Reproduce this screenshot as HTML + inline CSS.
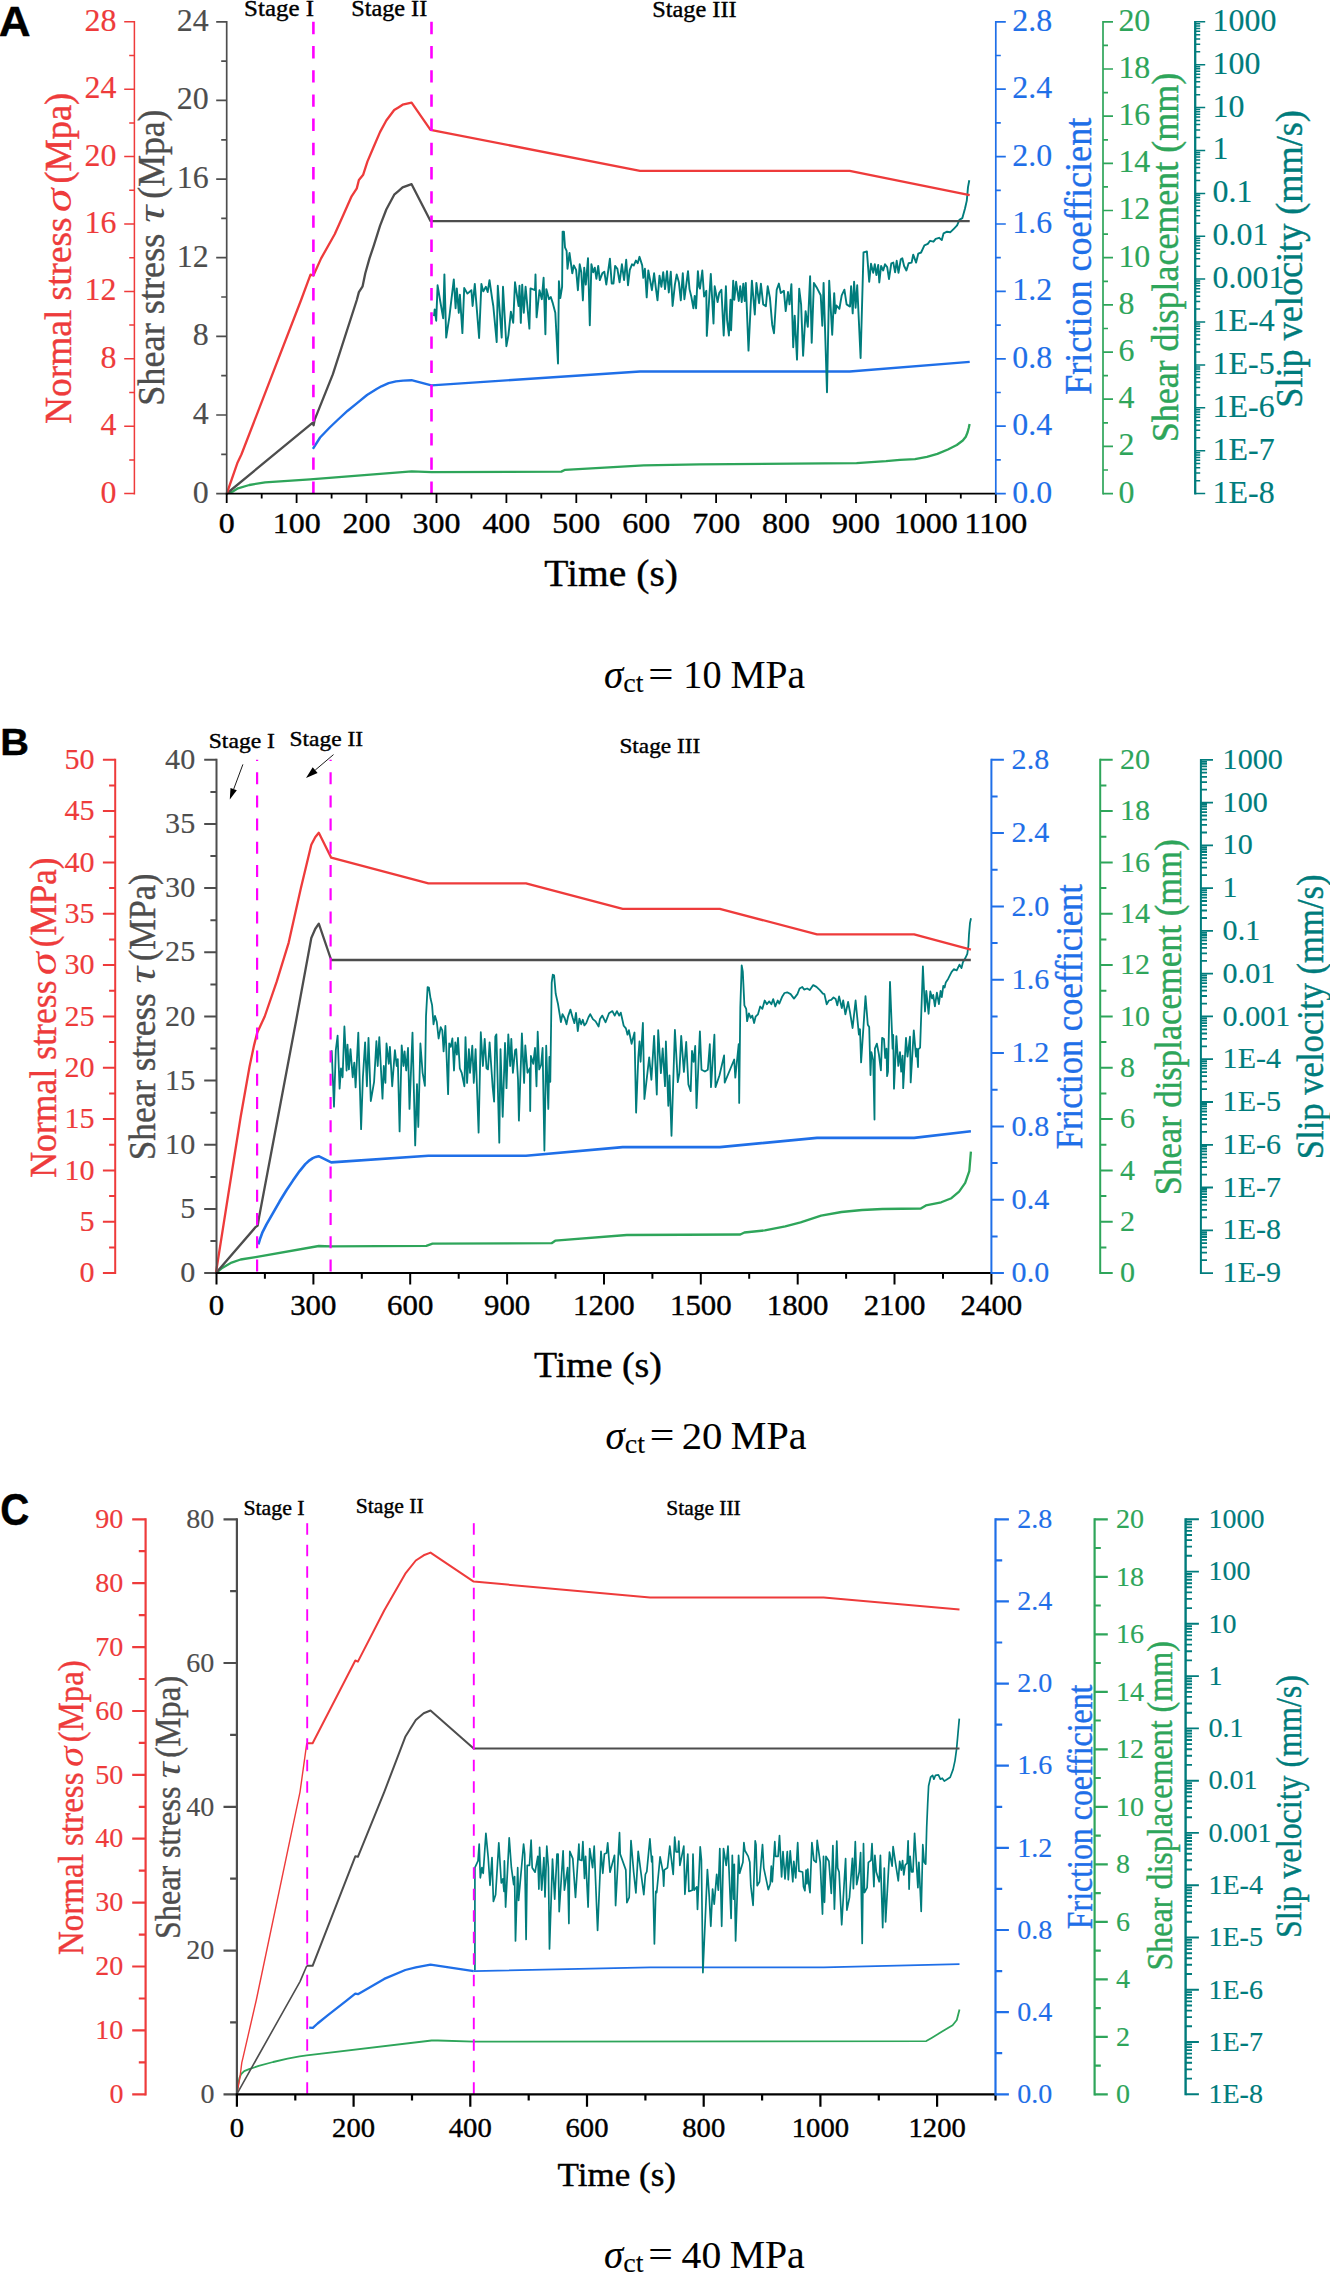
<!DOCTYPE html>
<html lang="en"><head><meta charset="utf-8"><title>Figure</title>
<style>
html,body{margin:0;padding:0;background:#fff}
svg{display:block}
text{stroke-width:.4px;stroke-linejoin:round}
.sf{font-family:"Liberation Serif","DejaVu Serif",serif}
.ss{font-family:"Liberation Sans","DejaVu Sans",sans-serif}
</style></head><body>
<svg width="1330" height="2273" viewBox="0 0 1330 2273">
<rect width="1330" height="2273" fill="#fff"/>
<text class="ss" transform="translate(-1.2 35.8) scale(1.050 1)" font-size="42" fill="#000" stroke="#000" font-weight="bold">A</text>
<text class="sf" transform="translate(244.1 15.5) scale(1.085 1)" font-size="23" fill="#000" stroke="#000">Stage I</text>
<text class="sf" transform="translate(351.2 15.5) scale(1.054 1)" font-size="23" fill="#000" stroke="#000">Stage II</text>
<text class="sf" transform="translate(652.2 16.5) scale(1.058 1)" font-size="23" fill="#000" stroke="#000">Stage III</text>
<polyline points="226.8,493.5 232.4,491.7 238,488.3 249.3,485 265.1,482.3 310.2,479.3 411.7,471.4 431.4,472.1 561.3,471.6 565.2,469.8 643.8,465.4 699.4,464.3 856.6,463.1 886,461.2 900,459.9 915,459.2 926.9,456.9 937.4,453.9 947.9,449.5 956.8,445 962.8,440.5 965.8,436.7 967.6,432.3 968.8,427.8 969.6,424" fill="none" stroke="#2ea55a" stroke-width="2.3" stroke-linejoin="round"/>
<polyline points="312.9,448.8 320.1,437.5 329.7,427.5 338.1,419.5 347.7,410.7 357.4,402.9 367,395 376.6,389 381.4,386.3 388.6,383.2 395.9,381.4 403.1,380.6 411.5,380.2 431.4,385.4 640,371.5 849.7,371.5 969.7,361.9" fill="none" stroke="#1f6fe8" stroke-width="2.4" stroke-linejoin="round"/>
<polyline points="434,316.2 434.7,309.4 436.2,320.7 437.6,285.3 440.3,301.5 443.2,318.4 444.4,274.4 446.2,337.6 449.3,317.3 453.8,279.4 455.6,308.3 456.8,288.4 458.8,312.8 459.9,294.7 462.4,333.1 464.2,288 467.4,293.6 471.4,290.2 472.6,306 474.8,283.9 479.1,338 481.4,283.9 483.2,291.4 485.9,286.8 487.7,292 489.5,280.1 492.2,299.2 493.3,306 496.7,342.1 497.8,285.7 501.7,337.6 503,286.8 506.4,346.2 508.4,335.3 510.9,311.7 513.2,322.9 515,282.3 518.6,306 519.5,285.7 520.8,322.9 522.2,284.6 523.8,312.8 525.6,286.8 529.4,328.6 530.5,288.4 535,290.2 535.5,274.4 536.6,317.3 539.5,290.2 541.8,299.2 543.6,277.8 545.4,334.2 546.3,289.1 549,299.2 550.8,297 552.6,302.6 555.3,312.8 558,363.5 558.9,281.2 560.3,298.1 562.1,286.8 562.6,231.6 563.9,231.6 565,247.4 566.6,250.8 567.5,268.8 569.5,253 572.3,273.3 573.8,265.4 576.1,269.9 577.9,290.2 579.7,264.3 581.3,272.2 582.9,300.4 584.2,267.7 585.8,284.6 588,258.2 589.8,325.2 591.4,264.3 593.2,272.2 594.8,267.7 596.4,278.9 598.2,265.9 599.8,280.1 602.3,273.3 604.3,271.7 606.3,284.6 607.7,274.4 609.9,258.6 611.7,283.5 613.5,283.5 615.1,265.9 617.4,268.8 619.6,282.3 621.9,264.3 624.1,280.1 626.2,259.8 628,285.3 629.8,269.9 632,264.3 633.8,265.4 635.9,260.5 637.7,263.2 639.5,256.8 642.2,265.4 643.3,277.8 644.9,268.8 646.7,297.4 648.3,270.4 650.1,280.1 651.9,290.2 654.1,273.3 655.7,286.8 657.5,300.4 659.5,275.6 661.4,286.8 663.2,272.2 665,289.1 667,271.1 668.8,292.5 670.8,271.7 672.6,306 674.9,284.6 676.7,274.4 678.9,282.3 680.8,300.4 682.8,273.3 684.4,299.2 688,271.1 689.5,289.1 691.4,297 693.4,308.3 694.7,295.9 696.1,308.3 697.9,271.1 699.2,286.8 700,288.6 702.3,270.5 704.1,296.5 706.3,290.8 706.8,335.9 710.8,273.9 713.5,323.5 714.7,286.3 717.6,302.1 719.2,293.1 721.4,289.7 723.7,335.5 725.9,286.3 727.1,320.2 728.9,335.5 730.5,299.8 731.1,330.3 733.2,280.7 734.3,299.8 736.1,281.8 738.8,301 740.2,286.3 741.7,302.1 743.3,283.6 744.7,301 745.8,282.9 748.5,350.6 751.9,280.7 754.8,314.5 756.4,282.9 759.1,303.2 760.9,283.6 763.2,304.4 765.9,306.2 767.7,286.3 769.9,297.6 772.2,324.7 774,333.2 776.7,289.7 778.9,283.6 780.8,293.1 783.9,290.8 785.7,311.1 788,292 789.5,304.4 791.4,284.1 793.2,347.2 794.7,315.6 797,359.6 799.2,288.6 801.1,304.4 803.1,355.8 805.6,311.1 807.8,326.9 810.1,276.2 811.7,342.7 813.9,282.9 817.3,288.6 820.7,295.3 822.3,325.8 823.6,282.9 827,392.3 829.2,280.7 832.2,334.8 834.2,293.1 835.3,313.4 836.5,305.5 839.4,308.9 841.7,295.3 844.4,289.7 846.6,304.4 850,306.6 851.1,286.3 852.7,313.4 854.1,281.8 855.6,307.7 857.2,285.2 860.6,358 863.5,252.5 866.9,251.4 869.2,281.8 871,263.8 873.2,272.8 874.8,264.2 876.4,275 878.2,264.9 879.3,282.5 881.1,266 883.2,270.5 885,264.2 887.2,267.1 889,279.1 891.3,263.3 893.3,262.6 895.1,272.3 896.7,260.8 898.5,272.8 900.8,259.2 902.3,258.3 904.1,266 906.4,270.5 908.6,263.3 911.6,262.6 913.2,254.7 916.1,262.6 918.3,253.6 921.1,252.5 924.4,245.3 927.8,243.9 930.1,240.8 933.5,241.7 935.7,238.9 939.1,237.8 941.8,240.1 943.6,233.3 947,231.7 950.4,232.2 953.8,228.8 957.1,225.4 959.4,219.8 962.3,218.2 965,208.5 966.8,200.6 968,187.1 969.3,180.3" fill="none" stroke="#007c7c" stroke-width="1.9" stroke-linejoin="round"/>
<polyline points="226.8,493.5 312.5,422.9 313.6,425.2 314.7,419.6 332.8,374.4 356.8,300 358.9,292.1 362.6,286.3 365.3,273.2 369.5,258.4 373.7,245.8 380,225.8 386.3,209.5 394.2,194.7 398.4,191.1 402.6,187.4 411.6,184.2 430.5,221.1 969.7,221.2" fill="none" stroke="#4d4d4d" stroke-width="2.3" stroke-linejoin="round"/>
<polyline points="226.8,493.5 237.6,462.4 241.4,454.5 301.1,300 310.5,274.7 313.4,275.5 321.1,258.4 334.7,234.2 343.2,215.3 351.6,196.3 356.8,188.4 358.9,180 363.2,174.7 367.4,161.6 373.7,146.8 380,132.1 386.3,120.5 394.2,110 398.4,107.4 402.6,104.7 411.6,102.6 430.5,129.8 640,170.9 849.7,170.9 969.7,195.1" fill="none" stroke="#ee3b3b" stroke-width="2.3" stroke-linejoin="round"/>
<line x1="313.4" y1="21.8" x2="313.4" y2="493.6" stroke="#ff00ff" stroke-width="2.6" stroke-dasharray="12.4 11.8" stroke-dashoffset="0"/>
<line x1="431.5" y1="21.8" x2="431.5" y2="493.6" stroke="#ff00ff" stroke-width="2.6" stroke-dasharray="12.4 11.8" stroke-dashoffset="0"/>
<line x1="134.4" y1="21.1" x2="134.4" y2="494.4" stroke="#ee3b3b" stroke-width="1.5"/>
<text class="sf" transform="translate(100.6 502.5) scale(1.030 1)" font-size="31" fill="#ee3b3b" stroke="#ee3b3b" style="stroke-width:.15px">0</text>
<text class="sf" transform="translate(100.6 435.1) scale(1.030 1)" font-size="31" fill="#ee3b3b" stroke="#ee3b3b" style="stroke-width:.15px">4</text>
<text class="sf" transform="translate(100.6 367.7) scale(1.030 1)" font-size="31" fill="#ee3b3b" stroke="#ee3b3b" style="stroke-width:.15px">8</text>
<text class="sf" transform="translate(84.6 300.3) scale(1.030 1)" font-size="31" fill="#ee3b3b" stroke="#ee3b3b" style="stroke-width:.15px">12</text>
<text class="sf" transform="translate(84.6 232.9) scale(1.030 1)" font-size="31" fill="#ee3b3b" stroke="#ee3b3b" style="stroke-width:.15px">16</text>
<text class="sf" transform="translate(84.6 165.5) scale(1.030 1)" font-size="31" fill="#ee3b3b" stroke="#ee3b3b" style="stroke-width:.15px">20</text>
<text class="sf" transform="translate(84.6 98.1) scale(1.030 1)" font-size="31" fill="#ee3b3b" stroke="#ee3b3b" style="stroke-width:.15px">24</text>
<text class="sf" transform="translate(84.6 30.7) scale(1.030 1)" font-size="31" fill="#ee3b3b" stroke="#ee3b3b" style="stroke-width:.15px">28</text>
<path d="M134.4 493.6H124.2M134.4 459.9H129.2M134.4 426.2H124.2M134.4 392.5H129.2M134.4 358.8H124.2M134.4 325.1H129.2M134.4 291.4H124.2M134.4 257.7H129.2M134.4 224H124.2M134.4 190.3H129.2M134.4 156.6H124.2M134.4 122.9H129.2M134.4 89.2H124.2M134.4 55.5H129.2M134.4 21.8H124.2" stroke="#ee3b3b" stroke-width="1.5" fill="none"/>
<line x1="226.7" y1="20.9" x2="226.7" y2="494.5" stroke="#4d4d4d" stroke-width="1.7"/>
<text class="sf" transform="translate(192.8 502.5) scale(1.030 1)" font-size="31" fill="#4d4d4d" stroke="#4d4d4d" style="stroke-width:.15px">0</text>
<text class="sf" transform="translate(192.8 423.9) scale(1.030 1)" font-size="31" fill="#4d4d4d" stroke="#4d4d4d" style="stroke-width:.15px">4</text>
<text class="sf" transform="translate(192.8 345.2) scale(1.030 1)" font-size="31" fill="#4d4d4d" stroke="#4d4d4d" style="stroke-width:.15px">8</text>
<text class="sf" transform="translate(176.8 266.6) scale(1.030 1)" font-size="31" fill="#4d4d4d" stroke="#4d4d4d" style="stroke-width:.15px">12</text>
<text class="sf" transform="translate(176.8 188) scale(1.030 1)" font-size="31" fill="#4d4d4d" stroke="#4d4d4d" style="stroke-width:.15px">16</text>
<text class="sf" transform="translate(176.8 109.3) scale(1.030 1)" font-size="31" fill="#4d4d4d" stroke="#4d4d4d" style="stroke-width:.15px">20</text>
<text class="sf" transform="translate(176.8 30.7) scale(1.030 1)" font-size="31" fill="#4d4d4d" stroke="#4d4d4d" style="stroke-width:.15px">24</text>
<path d="M226.7 493.6H216.2M226.7 454.3H221.2M226.7 415H216.2M226.7 375.7H221.2M226.7 336.3H216.2M226.7 297H221.2M226.7 257.7H216.2M226.7 218.4H221.2M226.7 179.1H216.2M226.7 139.8H221.2M226.7 100.4H216.2M226.7 61.1H221.2M226.7 21.8H216.2" stroke="#4d4d4d" stroke-width="1.7" fill="none"/>
<line x1="225.8" y1="493.6" x2="996.7" y2="493.6" stroke="#000" stroke-width="1.8"/>
<text class="sf" transform="translate(218.7 532.6) scale(1.065 1)" font-size="30" fill="#000" stroke="#000">0</text>
<text class="sf" transform="translate(272.7 532.6) scale(1.065 1)" font-size="30" fill="#000" stroke="#000">100</text>
<text class="sf" transform="translate(342.6 532.6) scale(1.065 1)" font-size="30" fill="#000" stroke="#000">200</text>
<text class="sf" transform="translate(412.5 532.6) scale(1.065 1)" font-size="30" fill="#000" stroke="#000">300</text>
<text class="sf" transform="translate(482.4 532.6) scale(1.065 1)" font-size="30" fill="#000" stroke="#000">400</text>
<text class="sf" transform="translate(552.3 532.6) scale(1.065 1)" font-size="30" fill="#000" stroke="#000">500</text>
<text class="sf" transform="translate(622.2 532.6) scale(1.065 1)" font-size="30" fill="#000" stroke="#000">600</text>
<text class="sf" transform="translate(692.2 532.6) scale(1.065 1)" font-size="30" fill="#000" stroke="#000">700</text>
<text class="sf" transform="translate(762.1 532.6) scale(1.065 1)" font-size="30" fill="#000" stroke="#000">800</text>
<text class="sf" transform="translate(832 532.6) scale(1.065 1)" font-size="30" fill="#000" stroke="#000">900</text>
<text class="sf" transform="translate(893.9 532.6) scale(1.065 1)" font-size="30" fill="#000" stroke="#000">1000</text>
<text class="sf" transform="translate(964.4 532.6) scale(1.065 1)" font-size="30" fill="#000" stroke="#000">1100</text>
<path d="M226.7 493.6V503.1M261.7 493.6V498.6M296.6 493.6V503.1M331.6 493.6V498.6M366.5 493.6V503.1M401.5 493.6V498.6M436.5 493.6V503.1M471.4 493.6V498.6M506.4 493.6V503.1M541.3 493.6V498.6M576.3 493.6V503.1M611.2 493.6V498.6M646.2 493.6V503.1M681.2 493.6V498.6M716.1 493.6V503.1M751.1 493.6V498.6M786 493.6V503.1M821 493.6V498.6M856 493.6V503.1M890.9 493.6V498.6M925.9 493.6V503.1M960.8 493.6V498.6M995.8 493.6V503.1" stroke="#000" stroke-width="1.8" fill="none"/>
<line x1="995.8" y1="20.9" x2="995.8" y2="494.5" stroke="#1f6fe8" stroke-width="1.7"/>
<text class="sf" transform="translate(1012.3 502.5) scale(1.030 1)" font-size="31" fill="#1f6fe8" stroke="#1f6fe8" style="stroke-width:.15px">0.0</text>
<text class="sf" transform="translate(1012.3 435.1) scale(1.030 1)" font-size="31" fill="#1f6fe8" stroke="#1f6fe8" style="stroke-width:.15px">0.4</text>
<text class="sf" transform="translate(1012.3 367.7) scale(1.030 1)" font-size="31" fill="#1f6fe8" stroke="#1f6fe8" style="stroke-width:.15px">0.8</text>
<text class="sf" transform="translate(1012.3 300.3) scale(1.030 1)" font-size="31" fill="#1f6fe8" stroke="#1f6fe8" style="stroke-width:.15px">1.2</text>
<text class="sf" transform="translate(1012.3 232.9) scale(1.030 1)" font-size="31" fill="#1f6fe8" stroke="#1f6fe8" style="stroke-width:.15px">1.6</text>
<text class="sf" transform="translate(1012.3 165.5) scale(1.030 1)" font-size="31" fill="#1f6fe8" stroke="#1f6fe8" style="stroke-width:.15px">2.0</text>
<text class="sf" transform="translate(1012.3 98.1) scale(1.030 1)" font-size="31" fill="#1f6fe8" stroke="#1f6fe8" style="stroke-width:.15px">2.4</text>
<text class="sf" transform="translate(1012.3 30.7) scale(1.030 1)" font-size="31" fill="#1f6fe8" stroke="#1f6fe8" style="stroke-width:.15px">2.8</text>
<path d="M995.8 493.6H1005.8M995.8 459.9H1000.8M995.8 426.2H1005.8M995.8 392.5H1000.8M995.8 358.8H1005.8M995.8 325.1H1000.8M995.8 291.4H1005.8M995.8 257.7H1000.8M995.8 224H1005.8M995.8 190.3H1000.8M995.8 156.6H1005.8M995.8 122.9H1000.8M995.8 89.2H1005.8M995.8 55.5H1000.8M995.8 21.8H1005.8" stroke="#1f6fe8" stroke-width="1.7" fill="none"/>
<line x1="1103" y1="20.9" x2="1103" y2="494.5" stroke="#2ea55a" stroke-width="1.7"/>
<text class="sf" transform="translate(1118.4 502.5) scale(1.030 1)" font-size="31" fill="#2ea55a" stroke="#2ea55a" style="stroke-width:.15px">0</text>
<text class="sf" transform="translate(1118.4 455.3) scale(1.030 1)" font-size="31" fill="#2ea55a" stroke="#2ea55a" style="stroke-width:.15px">2</text>
<text class="sf" transform="translate(1118.4 408.1) scale(1.030 1)" font-size="31" fill="#2ea55a" stroke="#2ea55a" style="stroke-width:.15px">4</text>
<text class="sf" transform="translate(1118.4 361) scale(1.030 1)" font-size="31" fill="#2ea55a" stroke="#2ea55a" style="stroke-width:.15px">6</text>
<text class="sf" transform="translate(1118.4 313.8) scale(1.030 1)" font-size="31" fill="#2ea55a" stroke="#2ea55a" style="stroke-width:.15px">8</text>
<text class="sf" transform="translate(1118.4 266.6) scale(1.030 1)" font-size="31" fill="#2ea55a" stroke="#2ea55a" style="stroke-width:.15px">10</text>
<text class="sf" transform="translate(1118.4 219.4) scale(1.030 1)" font-size="31" fill="#2ea55a" stroke="#2ea55a" style="stroke-width:.15px">12</text>
<text class="sf" transform="translate(1118.4 172.2) scale(1.030 1)" font-size="31" fill="#2ea55a" stroke="#2ea55a" style="stroke-width:.15px">14</text>
<text class="sf" transform="translate(1118.4 125.1) scale(1.030 1)" font-size="31" fill="#2ea55a" stroke="#2ea55a" style="stroke-width:.15px">16</text>
<text class="sf" transform="translate(1118.4 77.9) scale(1.030 1)" font-size="31" fill="#2ea55a" stroke="#2ea55a" style="stroke-width:.15px">18</text>
<text class="sf" transform="translate(1118.4 30.7) scale(1.030 1)" font-size="31" fill="#2ea55a" stroke="#2ea55a" style="stroke-width:.15px">20</text>
<path d="M1103 493.6H1113M1103 470H1108M1103 446.4H1113M1103 422.8H1108M1103 399.2H1113M1103 375.7H1108M1103 352.1H1113M1103 328.5H1108M1103 304.9H1113M1103 281.3H1108M1103 257.7H1113M1103 234.1H1108M1103 210.5H1113M1103 186.9H1108M1103 163.3H1113M1103 139.8H1108M1103 116.2H1113M1103 92.6H1108M1103 69H1113M1103 45.4H1108M1103 21.8H1113" stroke="#2ea55a" stroke-width="1.7" fill="none"/>
<line x1="1195.2" y1="21.1" x2="1195.2" y2="494.4" stroke="#007c7c" stroke-width="2.3"/>
<text class="sf" transform="translate(1212.6 30.7) scale(1.030 1)" font-size="31" fill="#007c7c" stroke="#007c7c" style="stroke-width:.15px">1000</text>
<text class="sf" transform="translate(1212.6 73.6) scale(1.030 1)" font-size="31" fill="#007c7c" stroke="#007c7c" style="stroke-width:.15px">100</text>
<text class="sf" transform="translate(1212.6 116.5) scale(1.030 1)" font-size="31" fill="#007c7c" stroke="#007c7c" style="stroke-width:.15px">10</text>
<text class="sf" transform="translate(1212.6 159.4) scale(1.030 1)" font-size="31" fill="#007c7c" stroke="#007c7c" style="stroke-width:.15px">1</text>
<text class="sf" transform="translate(1212.6 202.3) scale(1.030 1)" font-size="31" fill="#007c7c" stroke="#007c7c" style="stroke-width:.15px">0.1</text>
<text class="sf" transform="translate(1212.6 245.2) scale(1.030 1)" font-size="31" fill="#007c7c" stroke="#007c7c" style="stroke-width:.15px">0.01</text>
<text class="sf" transform="translate(1212.6 288) scale(1.030 1)" font-size="31" fill="#007c7c" stroke="#007c7c" style="stroke-width:.15px">0.001</text>
<text class="sf" transform="translate(1212.6 330.9) scale(1.030 1)" font-size="31" fill="#007c7c" stroke="#007c7c" style="stroke-width:.15px">1E-4</text>
<text class="sf" transform="translate(1212.6 373.8) scale(1.030 1)" font-size="31" fill="#007c7c" stroke="#007c7c" style="stroke-width:.15px">1E-5</text>
<text class="sf" transform="translate(1212.6 416.7) scale(1.030 1)" font-size="31" fill="#007c7c" stroke="#007c7c" style="stroke-width:.15px">1E-6</text>
<text class="sf" transform="translate(1212.6 459.6) scale(1.030 1)" font-size="31" fill="#007c7c" stroke="#007c7c" style="stroke-width:.15px">1E-7</text>
<text class="sf" transform="translate(1212.6 502.5) scale(1.030 1)" font-size="31" fill="#007c7c" stroke="#007c7c" style="stroke-width:.15px">1E-8</text>
<path d="M1195.2 21.8H1205.2M1195.2 51.8H1200.2M1195.2 44.2H1200.2M1195.2 38.9H1200.2M1195.2 34.7H1200.2M1195.2 31.3H1200.2M1195.2 28.4H1200.2M1195.2 26H1200.2M1195.2 23.8H1200.2M1195.2 64.7H1205.2M1195.2 94.7H1200.2M1195.2 87.1H1200.2M1195.2 81.8H1200.2M1195.2 77.6H1200.2M1195.2 74.2H1200.2M1195.2 71.3H1200.2M1195.2 68.8H1200.2M1195.2 66.7H1200.2M1195.2 107.6H1205.2M1195.2 137.6H1200.2M1195.2 130H1200.2M1195.2 124.6H1200.2M1195.2 120.5H1200.2M1195.2 117.1H1200.2M1195.2 114.2H1200.2M1195.2 111.7H1200.2M1195.2 109.5H1200.2M1195.2 150.5H1205.2M1195.2 180.5H1200.2M1195.2 172.9H1200.2M1195.2 167.5H1200.2M1195.2 163.4H1200.2M1195.2 160H1200.2M1195.2 157.1H1200.2M1195.2 154.6H1200.2M1195.2 152.4H1200.2M1195.2 193.4H1205.2M1195.2 223.3H1200.2M1195.2 215.8H1200.2M1195.2 210.4H1200.2M1195.2 206.3H1200.2M1195.2 202.9H1200.2M1195.2 200H1200.2M1195.2 197.5H1200.2M1195.2 195.3H1200.2M1195.2 236.3H1205.2M1195.2 266.2H1200.2M1195.2 258.7H1200.2M1195.2 253.3H1200.2M1195.2 249.2H1200.2M1195.2 245.8H1200.2M1195.2 242.9H1200.2M1195.2 240.4H1200.2M1195.2 238.2H1200.2M1195.2 279.1H1205.2M1195.2 309.1H1200.2M1195.2 301.6H1200.2M1195.2 296.2H1200.2M1195.2 292.1H1200.2M1195.2 288.7H1200.2M1195.2 285.8H1200.2M1195.2 283.3H1200.2M1195.2 281.1H1200.2M1195.2 322H1205.2M1195.2 352H1200.2M1195.2 344.5H1200.2M1195.2 339.1H1200.2M1195.2 334.9H1200.2M1195.2 331.6H1200.2M1195.2 328.7H1200.2M1195.2 326.2H1200.2M1195.2 324H1200.2M1195.2 364.9H1205.2M1195.2 394.9H1200.2M1195.2 387.4H1200.2M1195.2 382H1200.2M1195.2 377.8H1200.2M1195.2 374.4H1200.2M1195.2 371.6H1200.2M1195.2 369.1H1200.2M1195.2 366.9H1200.2M1195.2 407.8H1205.2M1195.2 437.8H1200.2M1195.2 430.2H1200.2M1195.2 424.9H1200.2M1195.2 420.7H1200.2M1195.2 417.3H1200.2M1195.2 414.5H1200.2M1195.2 412H1200.2M1195.2 409.8H1200.2M1195.2 450.7H1205.2M1195.2 480.7H1200.2M1195.2 473.1H1200.2M1195.2 467.8H1200.2M1195.2 463.6H1200.2M1195.2 460.2H1200.2M1195.2 457.4H1200.2M1195.2 454.9H1200.2M1195.2 452.7H1200.2M1195.2 493.6H1205.2" stroke="#007c7c" stroke-width="1.5" fill="none"/>
<text class="sf" transform="translate(70.9 423.9) rotate(-90) scale(0.971 1)" font-size="38.5" fill="#ee3b3b" stroke="#ee3b3b">Normal stress</text>
<text class="sf" transform="translate(70.9 212.2) rotate(-90) scale(1.250 1)" font-size="38.5" fill="#ee3b3b" stroke="#ee3b3b" style="stroke-width:0"><tspan font-style="italic">σ</tspan></text>
<text class="sf" transform="translate(70.9 183.6) rotate(-90) scale(0.944 1)" font-size="38.5" fill="#ee3b3b" stroke="#ee3b3b">(Mpa)</text>
<text class="sf" transform="translate(163.6 405.8) rotate(-90) scale(0.942 1)" font-size="38.5" fill="#4d4d4d" stroke="#4d4d4d">Shear stress</text>
<text class="sf" transform="translate(163.6 222.8) rotate(-90) scale(1.250 1)" font-size="38.5" fill="#4d4d4d" stroke="#4d4d4d" style="stroke-width:0"><tspan font-style="italic">τ</tspan></text>
<text class="sf" transform="translate(163.6 198.7) rotate(-90) scale(0.927 1)" font-size="38.5" fill="#4d4d4d" stroke="#4d4d4d">(Mpa)</text>
<text class="sf" transform="translate(1091 394.8) rotate(-90) scale(0.938 1)" font-size="38.5" fill="#1f6fe8" stroke="#1f6fe8">Friction coefficient</text>
<text class="sf" transform="translate(1177.9 442.3) rotate(-90) scale(0.934 1)" font-size="38.5" fill="#2ea55a" stroke="#2ea55a">Shear displacement (mm)</text>
<text class="sf" transform="translate(1301.5 407.7) rotate(-90) scale(0.940 1)" font-size="38.5" fill="#007c7c" stroke="#007c7c">Slip velocity (mm/s)</text>
<text class="sf" transform="translate(544.3 585.6) scale(1.072 1)" font-size="36.9" fill="#000" stroke="#000">Time (s)</text>
<text class="sf" transform="translate(604.1 688.3)" font-size="39" fill="#000" stroke="#000" style="stroke-width:.1px"><tspan font-style="italic">σ</tspan><tspan font-size="28.1" dy="3.4">ct</tspan></text>
<text class="sf" transform="translate(648.2 688.3) scale(1.147 1)" font-size="39" fill="#000" stroke="#000" style="stroke-width:.1px">=</text>
<text class="sf" transform="translate(683.3 688.3) scale(0.979 1)" font-size="39" fill="#000" stroke="#000" style="stroke-width:.1px">10</text>
<text class="sf" transform="translate(730.4 688.3) scale(1.012 1)" font-size="39" fill="#000" stroke="#000" style="stroke-width:.1px">MPa</text>
<text class="ss" transform="translate(0.3 754.6) scale(1.060 1)" font-size="37.6" fill="#000" stroke="#000" font-weight="bold">B</text>
<text class="sf" transform="translate(208.7 747.9) scale(1.084 1)" font-size="21.8" fill="#000" stroke="#000">Stage I</text>
<text class="sf" transform="translate(289.5 746.1) scale(1.077 1)" font-size="21.8" fill="#000" stroke="#000">Stage II</text>
<text class="sf" transform="translate(619.4 753.1) scale(1.068 1)" font-size="21.8" fill="#000" stroke="#000">Stage III</text>
<line x1="242.9" y1="764.4" x2="233.7" y2="789.1" stroke="#000" stroke-width="0.9"/>
<polygon points="229.8,799.4 230.5,787.9 236.8,790.3" fill="#000"/>
<line x1="333.5" y1="754.6" x2="315.2" y2="770.1" stroke="#000" stroke-width="0.9"/>
<polygon points="306,777.9 312.7,767.2 317.6,773" fill="#000"/>
<polyline points="215.9,1273.1 222.6,1267.7 231.6,1262.6 240.6,1259.5 255.6,1257.1 318.8,1246 331.2,1246.3 426.3,1245.8 432.5,1243.7 551.6,1243.2 555.2,1240.7 626.8,1235 740.3,1234.5 744.4,1232.5 764.8,1230.4 785.3,1226.3 800.6,1222.3 821.1,1215.6 841.5,1212 862,1210 882.4,1209 920.8,1208.5 925.9,1205.4 941.2,1202.3 951.4,1198.2 959.1,1191.6 965.2,1182.9 969.3,1171.1 970.9,1151.7" fill="none" stroke="#2ea55a" stroke-width="2.3" stroke-linejoin="round"/>
<polyline points="258.4,1244.3 259.9,1239.3 262.3,1232.7 266.5,1224.4 273.1,1212.9 279.7,1201.3 286.3,1190.5 292.9,1180.6 299.6,1171.1 305.3,1164.1 309.5,1160.3 312.8,1158.1 315.7,1156.9 318.6,1156.2 331.2,1162.4 428.4,1155.8 526,1155.8 622.7,1147.1 719.8,1147.1 817,1137.9 914.1,1137.9 970.9,1131.2" fill="none" stroke="#1f6fe8" stroke-width="2.6" stroke-linejoin="round"/>
<polyline points="331.7,1050.2 334,1106.6 335.8,1050.2 337.6,1035.6 339.6,1088.6 341,1068.3 342.6,1077.3 344.4,1026.5 346.6,1070.5 347.5,1044.6 348.9,1069.4 350.5,1049.1 352.7,1077.3 354.3,1062.6 355.6,1087.4 358.3,1032.6 361.1,1129.2 362.9,1077.3 365.1,1042.3 366.9,1086.3 368.5,1037.8 370.8,1101 374.1,1081.8 376.4,1041.2 377.7,1066 379.3,1037.1 382.5,1098.7 383.8,1066 385.4,1082.9 386.5,1043.5 388.8,1063.8 389.9,1046.8 392.2,1086.3 394.9,1050.2 396.7,1066 397.8,1059.2 399.6,1131.4 401.7,1045.3 403.5,1066 404.6,1051.4 406.2,1070.5 408,1048 409.5,1108.9 412.5,1032.6 415.2,1145.4 417,1084.1 418.3,1126.9 420.4,1043.5 422.6,1072.8 424.9,1085.9 426,1016.4 427.6,987.1 428.9,987.5 430.5,998.3 432.1,1005.1 433.5,1024.3 435,1015.9 436.8,1022 438.6,1038.5 440.7,1027.2 442.3,1030.4 443.6,1051.4 445.4,1025.9 448.1,1094.2 449.2,1043.5 450.8,1046.8 452.4,1038.5 454,1070.5 455.3,1042.3 456.9,1054.7 458,1037.8 459.8,1068.3 461.7,1072.8 464.4,1086.3 465.5,1037.1 467.1,1082.9 468.9,1049.1 470,1072.8 472.3,1045.7 473.8,1082.9 475.6,1049.1 478.6,1132.6 480.8,1032.2 482.9,1066 484.7,1038.9 486.5,1068.3 488,1069.4 489.6,1042.3 492.6,1086.3 494.1,1101.7 495.3,1036.7 496.4,1034.4 499.3,1142.7 500.5,1049.1 502.7,1116.8 505,1043 506.5,1088.1 508.3,1034.4 510.2,1066 511.3,1038.9 512.9,1072.8 515.1,1050.2 516.2,1049.1 518,1079.5 518.9,1120.6 521.9,1033.3 524.1,1082.9 525.3,1045.3 527.5,1072.8 529.8,1068.3 530.2,1111.1 530.9,1055.9 533.2,1063.8 535,1048 536.5,1086.3 537.7,1031.7 539.2,1069.4 541.1,1064.9 542.6,1048 544.4,1150.6 546.2,1045.7 548.3,1108.9 549.4,1057 550.3,1081.8 551.7,982.6 552.8,974.7 554.1,975.3 555.7,993.8 558,1004 560.9,1022 562.5,1014.1 564.7,1018.2 566.5,1024.3 568.1,1016.4 570.4,1009.6 572.6,1017.5 574.4,1023.2 576,1013 577.8,1031.1 579.4,1018.6 581.2,1024.3 582.8,1019.8 584.4,1025.4 586.2,1023.2 588.4,1017.5 590.2,1014.1 592.9,1019.1 595.6,1021.4 598.6,1026.5 600,1018.9 602.3,1015.6 605.6,1022.3 609,1013.3 612.4,1011.1 614.7,1015.6 616.9,1011.1 619.2,1015.6 620.8,1012.6 623.7,1025.7 625.9,1028.4 627.5,1034.7 628.9,1030.2 631.6,1043.8 633.2,1037.4 634.5,1032.5 636.1,1112.6 638.3,1057.3 639.5,1041.5 640.6,1061.8 642.9,1023 644.4,1099 647.4,1073.1 649.2,1057.3 651.4,1079.8 654.1,1035.9 656.8,1094.5 658.2,1030.2 660.9,1073.1 662.7,1048.3 665,1086.2 665.9,1041.5 668.3,1105.8 669.5,1075.3 671.5,1135.8 674.9,1029.8 677.8,1082.1 679.4,1073.1 681.2,1035.9 683.9,1072 686.2,1042 688.4,1084.4 690.7,1091.1 692,1051 693.6,1061.8 695.2,1046 696.5,1108 699.9,1031.4 701.5,1069.7 704.9,1071.5 707.8,1069.7 709.8,1044.2 711,1087.1 714.4,1034.7 715.5,1087.1 719.5,1075.3 724.1,1055.5 724.7,1082.6 734.2,1059.5 735.3,1077.6 738.7,1044.2 739.2,1102.9 740.3,1007.7 741.7,965.3 742.8,971.6 744.4,1005.4 746.2,1008.8 747.1,1021.2 748.9,1013.3 750.7,1017.8 752.3,1015.6 754.1,1023 755.6,1016.7 757.9,1014.4 760.2,1006.5 762.4,1008.8 764.7,1000.5 766.9,1004.3 769.2,1001.4 771.4,1004.3 773.2,999.1 775.3,1006.5 777.7,1000.5 779.3,1003.6 782.3,996.4 784.5,993 787.2,992.3 790.6,994.1 794,998.6 797.4,994.1 799.6,988.5 802.3,986.9 804.1,989.6 807.1,988.5 809.8,990.1 813.2,985.1 816.5,986.9 819.9,990.1 822.9,993.7 824.4,994.1 826.7,1004.3 828.9,1000.5 831.2,999.8 833.5,997.5 835.7,999.1 837.3,1005.4 839.1,996.4 841.8,1008.1 843.2,1000.5 845.4,1014.4 848.1,1002 849.9,1011.7 852.6,1028 855.6,1000.5 858.9,1034.7 859.8,1029.1 860,1029.3 861.1,1062.4 865.5,996.1 867.8,1024.7 869.2,1027 870.5,1075 871.4,1052.1 873.2,1060.1 874.5,1119.6 874.9,1048.7 876.9,1043.6 878.9,1054.4 880.9,1070.4 882.1,1037.8 884,1039 885.2,1057.9 886.5,1048.7 887.1,1076.2 888,1071.6 890,981.8 892.6,1048.7 893.2,1035 894,1088.7 896.4,1036.1 898.3,1065.9 900,1052.1 901.2,1071.6 902.6,1055.6 903.2,1088.2 906,1037.8 907.5,1056.7 910,1036.7 910.7,1082.4 913.8,1030.4 916,1056.7 916.8,1048.7 918,1067 918.3,1049.3 920.1,1047.6 922.9,966.3 925,1011.5 926.3,990.9 928.6,1013.8 930.3,991.5 932.1,998.4 933.2,994.9 934.9,1006.4 936.9,992.7 938.9,1004.1 940.6,990.9 941.8,997.2 943.3,985.8 944.6,987.5 945.8,982.4 948.1,978.9 951.5,972.1 953.8,969.2 956.7,970.3 959.5,964.6 961.5,968.1 962.9,962.3 965.2,958.3 967.3,953.8 968.4,945.8 969,934.3 970,922.9 971,918.3" fill="none" stroke="#007c7c" stroke-width="1.8" stroke-linejoin="round"/>
<polyline points="215.9,1273.1 255.6,1227.1 257.7,1225.6 259.2,1216.5 296.2,1020.2 311.3,938 315.2,929 318.8,923.6 331.2,960 970.8,960" fill="none" stroke="#4d4d4d" stroke-width="2.3" stroke-linejoin="round"/>
<polyline points="215.9,1273.1 228.6,1192.5 240.6,1117.3 249.6,1066.2 254.1,1045.1 257.1,1033.1 264.7,1016.5 276.7,981.7 288.7,942.6 300.8,888.4 311.3,844.8 315.2,837.3 318.8,832.8 331.2,857.7 428.4,883.3 526,883.3 622.7,908.8 719.8,908.8 817,934.4 914.1,934.4 970.9,949.7" fill="none" stroke="#ee3b3b" stroke-width="2.3" stroke-linejoin="round"/>
<line x1="257.1" y1="759.8" x2="257.1" y2="1273.1" stroke="#ff00ff" stroke-width="2.2" stroke-dasharray="12 11.2" stroke-dashoffset="10.8"/>
<line x1="330.6" y1="759.8" x2="330.6" y2="1273.1" stroke="#ff00ff" stroke-width="2.2" stroke-dasharray="12 11.2" stroke-dashoffset="10.8"/>
<line x1="115.2" y1="758.8" x2="115.2" y2="1274.1" stroke="#ee3b3b" stroke-width="2"/>
<text class="sf" transform="translate(79.5 1282.2) scale(1.020 1)" font-size="29.5" fill="#ee3b3b" stroke="#ee3b3b" style="stroke-width:.15px">0</text>
<text class="sf" transform="translate(79.5 1230.9) scale(1.020 1)" font-size="29.5" fill="#ee3b3b" stroke="#ee3b3b" style="stroke-width:.15px">5</text>
<text class="sf" transform="translate(64.4 1179.5) scale(1.020 1)" font-size="29.5" fill="#ee3b3b" stroke="#ee3b3b" style="stroke-width:.15px">10</text>
<text class="sf" transform="translate(64.4 1128.2) scale(1.020 1)" font-size="29.5" fill="#ee3b3b" stroke="#ee3b3b" style="stroke-width:.15px">15</text>
<text class="sf" transform="translate(64.4 1076.9) scale(1.020 1)" font-size="29.5" fill="#ee3b3b" stroke="#ee3b3b" style="stroke-width:.15px">20</text>
<text class="sf" transform="translate(64.4 1025.5) scale(1.020 1)" font-size="29.5" fill="#ee3b3b" stroke="#ee3b3b" style="stroke-width:.15px">25</text>
<text class="sf" transform="translate(64.4 974.2) scale(1.020 1)" font-size="29.5" fill="#ee3b3b" stroke="#ee3b3b" style="stroke-width:.15px">30</text>
<text class="sf" transform="translate(64.4 922.9) scale(1.020 1)" font-size="29.5" fill="#ee3b3b" stroke="#ee3b3b" style="stroke-width:.15px">35</text>
<text class="sf" transform="translate(64.4 871.6) scale(1.020 1)" font-size="29.5" fill="#ee3b3b" stroke="#ee3b3b" style="stroke-width:.15px">40</text>
<text class="sf" transform="translate(64.4 820.2) scale(1.020 1)" font-size="29.5" fill="#ee3b3b" stroke="#ee3b3b" style="stroke-width:.15px">45</text>
<text class="sf" transform="translate(64.4 768.9) scale(1.020 1)" font-size="29.5" fill="#ee3b3b" stroke="#ee3b3b" style="stroke-width:.15px">50</text>
<path d="M115.2 1273.1H102.9M115.2 1247.4H109.1M115.2 1221.8H102.9M115.2 1196.1H109.1M115.2 1170.4H102.9M115.2 1144.8H109.1M115.2 1119.1H102.9M115.2 1093.4H109.1M115.2 1067.8H102.9M115.2 1042.1H109.1M115.2 1016.4H102.9M115.2 990.8H109.1M115.2 965.1H102.9M115.2 939.5H109.1M115.2 913.8H102.9M115.2 888.1H109.1M115.2 862.5H102.9M115.2 836.8H109.1M115.2 811.1H102.9M115.2 785.5H109.1M115.2 759.8H102.9" stroke="#ee3b3b" stroke-width="2" fill="none"/>
<line x1="216.5" y1="758.8" x2="216.5" y2="1274.1" stroke="#4d4d4d" stroke-width="2"/>
<text class="sf" transform="translate(180.2 1282.2) scale(1.020 1)" font-size="29.5" fill="#4d4d4d" stroke="#4d4d4d" style="stroke-width:.15px">0</text>
<text class="sf" transform="translate(180.2 1218) scale(1.020 1)" font-size="29.5" fill="#4d4d4d" stroke="#4d4d4d" style="stroke-width:.15px">5</text>
<text class="sf" transform="translate(165.1 1153.9) scale(1.020 1)" font-size="29.5" fill="#4d4d4d" stroke="#4d4d4d" style="stroke-width:.15px">10</text>
<text class="sf" transform="translate(165.1 1089.7) scale(1.020 1)" font-size="29.5" fill="#4d4d4d" stroke="#4d4d4d" style="stroke-width:.15px">15</text>
<text class="sf" transform="translate(165.1 1025.5) scale(1.020 1)" font-size="29.5" fill="#4d4d4d" stroke="#4d4d4d" style="stroke-width:.15px">20</text>
<text class="sf" transform="translate(165.1 961.4) scale(1.020 1)" font-size="29.5" fill="#4d4d4d" stroke="#4d4d4d" style="stroke-width:.15px">25</text>
<text class="sf" transform="translate(165.1 897.2) scale(1.020 1)" font-size="29.5" fill="#4d4d4d" stroke="#4d4d4d" style="stroke-width:.15px">30</text>
<text class="sf" transform="translate(165.1 833.1) scale(1.020 1)" font-size="29.5" fill="#4d4d4d" stroke="#4d4d4d" style="stroke-width:.15px">35</text>
<text class="sf" transform="translate(165.1 768.9) scale(1.020 1)" font-size="29.5" fill="#4d4d4d" stroke="#4d4d4d" style="stroke-width:.15px">40</text>
<path d="M216.5 1273.1H204.2M216.5 1241H210.4M216.5 1208.9H204.2M216.5 1176.9H210.4M216.5 1144.8H204.2M216.5 1112.7H210.4M216.5 1080.6H204.2M216.5 1048.5H210.4M216.5 1016.4H204.2M216.5 984.4H210.4M216.5 952.3H204.2M216.5 920.2H210.4M216.5 888.1H204.2M216.5 856H210.4M216.5 824H204.2M216.5 791.9H210.4M216.5 759.8H204.2" stroke="#4d4d4d" stroke-width="2" fill="none"/>
<line x1="215.5" y1="1273.1" x2="992.4" y2="1273.1" stroke="#000" stroke-width="2"/>
<text class="sf" transform="translate(208.8 1314.6) scale(1.045 1)" font-size="29.5" fill="#000" stroke="#000">0</text>
<text class="sf" transform="translate(290.2 1314.6) scale(1.045 1)" font-size="29.5" fill="#000" stroke="#000">300</text>
<text class="sf" transform="translate(387.1 1314.6) scale(1.045 1)" font-size="29.5" fill="#000" stroke="#000">600</text>
<text class="sf" transform="translate(484 1314.6) scale(1.045 1)" font-size="29.5" fill="#000" stroke="#000">900</text>
<text class="sf" transform="translate(573.1 1314.6) scale(1.045 1)" font-size="29.5" fill="#000" stroke="#000">1200</text>
<text class="sf" transform="translate(670 1314.6) scale(1.045 1)" font-size="29.5" fill="#000" stroke="#000">1500</text>
<text class="sf" transform="translate(766.8 1314.6) scale(1.045 1)" font-size="29.5" fill="#000" stroke="#000">1800</text>
<text class="sf" transform="translate(863.7 1314.6) scale(1.045 1)" font-size="29.5" fill="#000" stroke="#000">2100</text>
<text class="sf" transform="translate(960.6 1314.6) scale(1.045 1)" font-size="29.5" fill="#000" stroke="#000">2400</text>
<path d="M216.5 1273.1V1284.5M264.9 1273.1V1278.7M313.4 1273.1V1284.5M361.8 1273.1V1278.7M410.2 1273.1V1284.5M458.7 1273.1V1278.7M507.1 1273.1V1284.5M555.5 1273.1V1278.7M604 1273.1V1284.5M652.4 1273.1V1278.7M700.8 1273.1V1284.5M749.2 1273.1V1278.7M797.7 1273.1V1284.5M846.1 1273.1V1278.7M894.5 1273.1V1284.5M943 1273.1V1278.7M991.4 1273.1V1284.5" stroke="#000" stroke-width="2" fill="none"/>
<line x1="991.4" y1="758.8" x2="991.4" y2="1274.1" stroke="#1f6fe8" stroke-width="2"/>
<text class="sf" transform="translate(1011.6 1282.2) scale(1.020 1)" font-size="29.5" fill="#1f6fe8" stroke="#1f6fe8" style="stroke-width:.15px">0.0</text>
<text class="sf" transform="translate(1011.6 1208.9) scale(1.020 1)" font-size="29.5" fill="#1f6fe8" stroke="#1f6fe8" style="stroke-width:.15px">0.4</text>
<text class="sf" transform="translate(1011.6 1135.5) scale(1.020 1)" font-size="29.5" fill="#1f6fe8" stroke="#1f6fe8" style="stroke-width:.15px">0.8</text>
<text class="sf" transform="translate(1011.6 1062.2) scale(1.020 1)" font-size="29.5" fill="#1f6fe8" stroke="#1f6fe8" style="stroke-width:.15px">1.2</text>
<text class="sf" transform="translate(1011.6 988.9) scale(1.020 1)" font-size="29.5" fill="#1f6fe8" stroke="#1f6fe8" style="stroke-width:.15px">1.6</text>
<text class="sf" transform="translate(1011.6 915.6) scale(1.020 1)" font-size="29.5" fill="#1f6fe8" stroke="#1f6fe8" style="stroke-width:.15px">2.0</text>
<text class="sf" transform="translate(1011.6 842.2) scale(1.020 1)" font-size="29.5" fill="#1f6fe8" stroke="#1f6fe8" style="stroke-width:.15px">2.4</text>
<text class="sf" transform="translate(1011.6 768.9) scale(1.020 1)" font-size="29.5" fill="#1f6fe8" stroke="#1f6fe8" style="stroke-width:.15px">2.8</text>
<path d="M991.4 1273.1H1003.9M991.4 1236.4H997.6M991.4 1199.8H1003.9M991.4 1163.1H997.6M991.4 1126.4H1003.9M991.4 1089.8H997.6M991.4 1053.1H1003.9M991.4 1016.4H997.6M991.4 979.8H1003.9M991.4 943.1H997.6M991.4 906.5H1003.9M991.4 869.8H997.6M991.4 833.1H1003.9M991.4 796.5H997.6M991.4 759.8H1003.9" stroke="#1f6fe8" stroke-width="2" fill="none"/>
<line x1="1100.2" y1="758.8" x2="1100.2" y2="1274.1" stroke="#2ea55a" stroke-width="2"/>
<text class="sf" transform="translate(1120 1282.2) scale(1.020 1)" font-size="29.5" fill="#2ea55a" stroke="#2ea55a" style="stroke-width:.15px">0</text>
<text class="sf" transform="translate(1120 1230.9) scale(1.020 1)" font-size="29.5" fill="#2ea55a" stroke="#2ea55a" style="stroke-width:.15px">2</text>
<text class="sf" transform="translate(1120 1179.5) scale(1.020 1)" font-size="29.5" fill="#2ea55a" stroke="#2ea55a" style="stroke-width:.15px">4</text>
<text class="sf" transform="translate(1120 1128.2) scale(1.020 1)" font-size="29.5" fill="#2ea55a" stroke="#2ea55a" style="stroke-width:.15px">6</text>
<text class="sf" transform="translate(1120 1076.9) scale(1.020 1)" font-size="29.5" fill="#2ea55a" stroke="#2ea55a" style="stroke-width:.15px">8</text>
<text class="sf" transform="translate(1120 1025.5) scale(1.020 1)" font-size="29.5" fill="#2ea55a" stroke="#2ea55a" style="stroke-width:.15px">10</text>
<text class="sf" transform="translate(1120 974.2) scale(1.020 1)" font-size="29.5" fill="#2ea55a" stroke="#2ea55a" style="stroke-width:.15px">12</text>
<text class="sf" transform="translate(1120 922.9) scale(1.020 1)" font-size="29.5" fill="#2ea55a" stroke="#2ea55a" style="stroke-width:.15px">14</text>
<text class="sf" transform="translate(1120 871.6) scale(1.020 1)" font-size="29.5" fill="#2ea55a" stroke="#2ea55a" style="stroke-width:.15px">16</text>
<text class="sf" transform="translate(1120 820.2) scale(1.020 1)" font-size="29.5" fill="#2ea55a" stroke="#2ea55a" style="stroke-width:.15px">18</text>
<text class="sf" transform="translate(1120 768.9) scale(1.020 1)" font-size="29.5" fill="#2ea55a" stroke="#2ea55a" style="stroke-width:.15px">20</text>
<path d="M1100.2 1273.1H1112.7M1100.2 1247.4H1106.4M1100.2 1221.8H1112.7M1100.2 1196.1H1106.4M1100.2 1170.4H1112.7M1100.2 1144.8H1106.4M1100.2 1119.1H1112.7M1100.2 1093.4H1106.4M1100.2 1067.8H1112.7M1100.2 1042.1H1106.4M1100.2 1016.4H1112.7M1100.2 990.8H1106.4M1100.2 965.1H1112.7M1100.2 939.5H1106.4M1100.2 913.8H1112.7M1100.2 888.1H1106.4M1100.2 862.5H1112.7M1100.2 836.8H1106.4M1100.2 811.1H1112.7M1100.2 785.5H1106.4M1100.2 759.8H1112.7" stroke="#2ea55a" stroke-width="2" fill="none"/>
<line x1="1200.9" y1="758.9" x2="1200.9" y2="1274" stroke="#007c7c" stroke-width="2"/>
<text class="sf" transform="translate(1222.6 768.9) scale(1.020 1)" font-size="29.5" fill="#007c7c" stroke="#007c7c" style="stroke-width:.15px">1000</text>
<text class="sf" transform="translate(1222.6 811.7) scale(1.020 1)" font-size="29.5" fill="#007c7c" stroke="#007c7c" style="stroke-width:.15px">100</text>
<text class="sf" transform="translate(1222.6 854.4) scale(1.020 1)" font-size="29.5" fill="#007c7c" stroke="#007c7c" style="stroke-width:.15px">10</text>
<text class="sf" transform="translate(1222.6 897.2) scale(1.020 1)" font-size="29.5" fill="#007c7c" stroke="#007c7c" style="stroke-width:.15px">1</text>
<text class="sf" transform="translate(1222.6 940) scale(1.020 1)" font-size="29.5" fill="#007c7c" stroke="#007c7c" style="stroke-width:.15px">0.1</text>
<text class="sf" transform="translate(1222.6 982.8) scale(1.020 1)" font-size="29.5" fill="#007c7c" stroke="#007c7c" style="stroke-width:.15px">0.01</text>
<text class="sf" transform="translate(1222.6 1025.5) scale(1.020 1)" font-size="29.5" fill="#007c7c" stroke="#007c7c" style="stroke-width:.15px">0.001</text>
<text class="sf" transform="translate(1222.6 1068.3) scale(1.020 1)" font-size="29.5" fill="#007c7c" stroke="#007c7c" style="stroke-width:.15px">1E-4</text>
<text class="sf" transform="translate(1222.6 1111.1) scale(1.020 1)" font-size="29.5" fill="#007c7c" stroke="#007c7c" style="stroke-width:.15px">1E-5</text>
<text class="sf" transform="translate(1222.6 1153.9) scale(1.020 1)" font-size="29.5" fill="#007c7c" stroke="#007c7c" style="stroke-width:.15px">1E-6</text>
<text class="sf" transform="translate(1222.6 1196.6) scale(1.020 1)" font-size="29.5" fill="#007c7c" stroke="#007c7c" style="stroke-width:.15px">1E-7</text>
<text class="sf" transform="translate(1222.6 1239.4) scale(1.020 1)" font-size="29.5" fill="#007c7c" stroke="#007c7c" style="stroke-width:.15px">1E-8</text>
<text class="sf" transform="translate(1222.6 1282.2) scale(1.020 1)" font-size="29.5" fill="#007c7c" stroke="#007c7c" style="stroke-width:.15px">1E-9</text>
<path d="M1200.9 759.8H1213M1200.9 789.7H1207M1200.9 782.2H1207M1200.9 776.8H1207M1200.9 772.7H1207M1200.9 769.3H1207M1200.9 766.4H1207M1200.9 763.9H1207M1200.9 761.8H1207M1200.9 802.6H1213M1200.9 832.5H1207M1200.9 824.9H1207M1200.9 819.6H1207M1200.9 815.5H1207M1200.9 812.1H1207M1200.9 809.2H1207M1200.9 806.7H1207M1200.9 804.5H1207M1200.9 845.3H1213M1200.9 875.2H1207M1200.9 867.7H1207M1200.9 862.4H1207M1200.9 858.2H1207M1200.9 854.8H1207M1200.9 852H1207M1200.9 849.5H1207M1200.9 847.3H1207M1200.9 888.1H1213M1200.9 918H1207M1200.9 910.5H1207M1200.9 905.1H1207M1200.9 901H1207M1200.9 897.6H1207M1200.9 894.8H1207M1200.9 892.3H1207M1200.9 890.1H1207M1200.9 930.9H1213M1200.9 960.8H1207M1200.9 953.3H1207M1200.9 947.9H1207M1200.9 943.8H1207M1200.9 940.4H1207M1200.9 937.5H1207M1200.9 935H1207M1200.9 932.9H1207M1200.9 973.7H1213M1200.9 1003.6H1207M1200.9 996H1207M1200.9 990.7H1207M1200.9 986.6H1207M1200.9 983.2H1207M1200.9 980.3H1207M1200.9 977.8H1207M1200.9 975.6H1207M1200.9 1016.4H1213M1200.9 1046.3H1207M1200.9 1038.8H1207M1200.9 1033.5H1207M1200.9 1029.3H1207M1200.9 1025.9H1207M1200.9 1023.1H1207M1200.9 1020.6H1207M1200.9 1018.4H1207M1200.9 1059.2H1213M1200.9 1089.1H1207M1200.9 1081.6H1207M1200.9 1076.2H1207M1200.9 1072.1H1207M1200.9 1068.7H1207M1200.9 1065.9H1207M1200.9 1063.4H1207M1200.9 1061.2H1207M1200.9 1102H1213M1200.9 1131.9H1207M1200.9 1124.4H1207M1200.9 1119H1207M1200.9 1114.9H1207M1200.9 1111.5H1207M1200.9 1108.6H1207M1200.9 1106.1H1207M1200.9 1104H1207M1200.9 1144.8H1213M1200.9 1174.7H1207M1200.9 1167.1H1207M1200.9 1161.8H1207M1200.9 1157.7H1207M1200.9 1154.3H1207M1200.9 1151.4H1207M1200.9 1148.9H1207M1200.9 1146.7H1207M1200.9 1187.5H1213M1200.9 1217.4H1207M1200.9 1209.9H1207M1200.9 1204.6H1207M1200.9 1200.4H1207M1200.9 1197H1207M1200.9 1194.2H1207M1200.9 1191.7H1207M1200.9 1189.5H1207M1200.9 1230.3H1213M1200.9 1260.2H1207M1200.9 1252.7H1207M1200.9 1247.3H1207M1200.9 1243.2H1207M1200.9 1239.8H1207M1200.9 1237H1207M1200.9 1234.5H1207M1200.9 1232.3H1207M1200.9 1273.1H1213" stroke="#007c7c" stroke-width="1.8" fill="none"/>
<text class="sf" transform="translate(55.9 1177.7) rotate(-90) scale(0.952 1)" font-size="37.5" fill="#ee3b3b" stroke="#ee3b3b">Normal stress</text>
<text class="sf" transform="translate(55.9 975.2) rotate(-90) scale(1.250 1)" font-size="37.5" fill="#ee3b3b" stroke="#ee3b3b" style="stroke-width:0"><tspan font-style="italic">σ</tspan></text>
<text class="sf" transform="translate(55.9 947.3) rotate(-90) scale(0.937 1)" font-size="37.5" fill="#ee3b3b" stroke="#ee3b3b">(MPa)</text>
<text class="sf" transform="translate(154.5 1160.2) rotate(-90) scale(0.938 1)" font-size="37.5" fill="#4d4d4d" stroke="#4d4d4d">Shear stress</text>
<text class="sf" transform="translate(154.5 983.5) rotate(-90) scale(1.250 1)" font-size="37.5" fill="#4d4d4d" stroke="#4d4d4d" style="stroke-width:0"><tspan font-style="italic">τ</tspan></text>
<text class="sf" transform="translate(154.5 961.1) rotate(-90) scale(0.914 1)" font-size="37.5" fill="#4d4d4d" stroke="#4d4d4d">(MPa)</text>
<text class="sf" transform="translate(1082.4 1149.2) rotate(-90) scale(0.922 1)" font-size="37.5" fill="#1f6fe8" stroke="#1f6fe8">Friction coefficient</text>
<text class="sf" transform="translate(1180.5 1195.2) rotate(-90) scale(0.924 1)" font-size="37.5" fill="#2ea55a" stroke="#2ea55a">Shear displacement (mm)</text>
<text class="sf" transform="translate(1323.4 1159.2) rotate(-90) scale(0.924 1)" font-size="37.5" fill="#007c7c" stroke="#007c7c">Slip velocity (mm/s)</text>
<text class="sf" transform="translate(533.9 1377.3) scale(1.079 1)" font-size="35.1" fill="#000" stroke="#000">Time (s)</text>
<text class="sf" transform="translate(605.6 1449.1)" font-size="39" fill="#000" stroke="#000" style="stroke-width:.1px"><tspan font-style="italic">σ</tspan><tspan font-size="28.1" dy="3.4">ct</tspan></text>
<text class="sf" transform="translate(649.8 1449.1) scale(1.119 1)" font-size="39" fill="#000" stroke="#000" style="stroke-width:.1px">=</text>
<text class="sf" transform="translate(681.7 1449.1) scale(1.045 1)" font-size="39" fill="#000" stroke="#000" style="stroke-width:.1px">20</text>
<text class="sf" transform="translate(730.8 1449.1) scale(1.028 1)" font-size="39" fill="#000" stroke="#000" style="stroke-width:.1px">MPa</text>
<text class="ss" transform="translate(0.3 1525) scale(0.920 1)" font-size="43.8" fill="#000" stroke="#000" font-weight="bold">C</text>
<text class="sf" transform="translate(243.4 1514.5) scale(1.076 1)" font-size="20.3" fill="#000" stroke="#000">Stage I</text>
<text class="sf" transform="translate(355.7 1513.3) scale(1.068 1)" font-size="20.3" fill="#000" stroke="#000">Stage II</text>
<text class="sf" transform="translate(666.3 1514.5) scale(1.058 1)" font-size="20.3" fill="#000" stroke="#000">Stage III</text>
<polyline points="237,2093.2 238.2,2084.2 239.4,2078.2 241.2,2074 244.2,2071.2 249.1,2069.2 258.7,2065.9 273.1,2062 287.6,2058.7 299.6,2056.3 306.8,2055.3 431.6,2040.5 437.9,2040.5 473.7,2041.6 926.3,2041.1 931.6,2037.9 942.1,2031.6 952.6,2025.3 956.8,2020 959.5,2009.5" fill="none" stroke="#2ea55a" stroke-width="1.8" stroke-linejoin="round"/>
<polyline points="309.2,2027.7 312.8,2027.9 317.6,2023.5 327.3,2015.6 346.5,2000.6 355.3,1993.7 357.9,1994.2 384.2,1978.9 405.3,1970 415.8,1967.4 430.5,1964.7 473.7,1971.1" fill="none" stroke="#1f6fe8" stroke-width="2.3" stroke-linejoin="round"/>
<polyline points="473.7,1971.1 650,1967.4 823.7,1967.4 959.5,1964.2" fill="none" stroke="#1f6fe8" stroke-width="1.7" stroke-linejoin="round"/>
<polyline points="474.9,1970.3 474.9,1867.7 478,1860.9 479.2,1844 480.3,1877.8 481.9,1867.7 483.2,1873.3 485.9,1833.4 488.2,1857.5 490,1885.3 492,1857.5 493.4,1901.5 495.6,1894.7 498.8,1842.9 501.3,1883 502.9,1878.9 504,1891.4 504.4,1860.9 505.6,1907.1 509.2,1837.9 511.4,1867.7 513.7,1884.6 514.6,1876.7 515.5,1941 517.7,1867.7 518.6,1900.4 523.6,1844 524.7,1854.1 526.1,1939.4 527.2,1865.4 529.5,1865.4 531.1,1840.2 532.2,1867.7 535.1,1872.2 537.8,1856.4 538.9,1889.1 539.6,1847.4 541.7,1890.2 543.9,1857.5 545,1897 546.8,1846.2 548.4,1867.7 549.5,1948.9 552.5,1859.1 554.7,1899.2 557,1854.1 558.1,1854.1 559.2,1911.7 563.1,1850.8 564.4,1890.2 567.6,1867.7 568.9,1923.6 569.8,1851.4 572.8,1858.6 575.5,1897.4 578.9,1844 579.5,1859.8 581.8,1860.5 582.9,1841.7 584.5,1878.5 585.6,1856.4 588.1,1907.1 589.7,1848.5 592.6,1867.7 594.2,1846.2 597.6,1930.4 601,1851.4 602.8,1873.3 604.4,1854.1 606.6,1853 607.7,1842.9 610,1872.2 614.5,1855.3 615.6,1905.6 619.5,1832.7 620.2,1854.1 625.8,1869.9 626.9,1902.6 629.2,1897.4 631,1840.6 633.7,1872.2 635.9,1892.9 638.2,1851.4 643.8,1894.7 645.4,1874.4 646.8,1871.7 649.9,1838.8 651.7,1862 652.4,1856.4 654.4,1943.9 655.8,1891.4 656.7,1892.5 660.1,1856.8 663,1872.2 663.7,1886.2 664.4,1869.9 667.5,1867.7 669.8,1846.2 673.2,1874.4 674.7,1837.2 676.1,1851.9 678.1,1851.9 678.8,1841.1 679.9,1865.4 683.8,1846.2 684.9,1894.3 687.8,1854.1 688.9,1891.4 692.3,1890.2 693,1854.1 694.1,1890.2 696.8,1886.8 697.5,1909.4 700.2,1846.9 701.4,1859.8 702.9,1972.6 707.4,1869.5 709.2,1895.9 710.8,1926.3 712.6,1889.1 714.2,1904.2 716.7,1874.4 718.3,1890.2 719.8,1848.5 721.7,1926.3 723.5,1848.5 726.2,1865.4 728,1846.2 731.1,1918.4 732.3,1855.3 733.6,1899.2 734.3,1864.3 735.6,1941 738.6,1855.3 739.7,1873.3 740,1872 742.9,1862.3 743.9,1842.7 744.9,1850.5 748.2,1856.4 749.8,1862.3 750.8,1885.7 753.1,1905.3 755.2,1840.8 756,1844.7 757.2,1885.7 759.5,1881.8 762.5,1844.7 763.8,1868.1 768.3,1889.6 770.3,1883.8 771.3,1866.2 772.3,1881.8 774.8,1841.7 775.6,1856.4 778.1,1856.4 779.5,1835.5 781.6,1876.9 783,1851.5 785,1878.9 787.3,1851.5 788.3,1879.8 790.2,1850.9 792.8,1881.8 793.8,1861.3 795.7,1877.9 797.7,1842.7 799,1871.1 802.6,1872 803.5,1886.7 804.9,1890.6 806.1,1870.1 806.9,1883.8 807.8,1869.1 808.8,1883.8 810,1892.6 811.9,1842.7 813.9,1860.3 816.2,1862.3 817.2,1840.4 820.2,1862.3 822.5,1914.1 823.5,1856.4 824.5,1902.3 826,1856.4 828.9,1861.3 831.3,1893.5 832.9,1845.6 834.4,1909.2 836.8,1841.1 837.7,1868.1 839.1,1872 841.7,1924.8 845.6,1858.7 846.9,1910.2 849.5,1897.4 852.4,1858.3 853.4,1888.6 855.3,1841.7 856.7,1884.7 859.2,1872 860.6,1852.5 862.2,1943.4 863.5,1843.7 864.5,1892.6 867.1,1887.7 868.4,1862.3 871,1860.3 872,1843.7 873.9,1886.7 874.9,1855.4 876.3,1872 879.2,1881.8 880.4,1855.4 882.7,1927.7 884.3,1868.1 885.6,1921.9 889.5,1852.1 892.1,1866.2 893.1,1846.6 895.4,1862.3 898.3,1880.8 899.7,1861.3 901.3,1870.1 902.6,1860.7 903.8,1875 905.2,1865.2 907.1,1863.2 908.1,1840.8 909.1,1889.2 910.1,1856.4 911.6,1872 913,1872 914.6,1833.3 917.9,1887.7 918.9,1862.3 921.2,1911.5 922.8,1844.7 924.2,1862.3 925.7,1864.2 926.7,1827.1 927.7,1803.6 928.6,1786 930.6,1777.2 932.6,1775.3 933.9,1779.2 935.5,1775.3 938.4,1774.9 940.4,1779.2 942.3,1778.2 944.3,1781.1 947.2,1779.2 950.2,1777.2 953.1,1769.4 955,1760.6 956.6,1748.9 958,1733.2 959.3,1718.6" fill="none" stroke="#007c7c" stroke-width="1.7" stroke-linejoin="round"/>
<polyline points="236.7,2094.3 300,1981.6 306.8,1965.8" fill="none" stroke="#4d4d4d" stroke-width="1.6" stroke-linejoin="round"/>
<polyline points="306.8,1965.8 312.6,1965.8 355.3,1856.3 357.9,1856.8 384.2,1792.1 405.3,1736.8 415.8,1720 423.7,1713.2 430.5,1710.5 473.7,1748.4 959.5,1748.4" fill="none" stroke="#4d4d4d" stroke-width="2" stroke-linejoin="round"/>
<polyline points="237,2093.2 240,2077 241.8,2062.6 243,2057.7 256.3,2000 300,1792.1 306.8,1743.2" fill="none" stroke="#ee3b3b" stroke-width="1.4" stroke-linejoin="round"/>
<polyline points="306.8,1743.2 312.6,1743.2 355.3,1660.5 357.9,1661.6 384.2,1610.5 405.3,1573.7 415.8,1560.5 423.7,1555.3 430.5,1552.6 473.7,1581.6 650,1597.4 823.7,1597.4 959.5,1609.5" fill="none" stroke="#ee3b3b" stroke-width="2" stroke-linejoin="round"/>
<line x1="307.2" y1="1523.2" x2="307.2" y2="2094.3" stroke="#ff00ff" stroke-width="1.9" stroke-dasharray="11.5 10" stroke-dashoffset="0"/>
<line x1="473.8" y1="1523.2" x2="473.8" y2="2094.3" stroke="#ff00ff" stroke-width="1.9" stroke-dasharray="11.5 10" stroke-dashoffset="0"/>
<line x1="145.6" y1="1518.2" x2="145.6" y2="2095.4" stroke="#ee3b3b" stroke-width="2.2"/>
<text class="sf" transform="translate(109.4 2103) scale(1.010 1)" font-size="27.8" fill="#ee3b3b" stroke="#ee3b3b" style="stroke-width:.15px">0</text>
<text class="sf" transform="translate(95.3 2039.1) scale(1.010 1)" font-size="27.8" fill="#ee3b3b" stroke="#ee3b3b" style="stroke-width:.15px">10</text>
<text class="sf" transform="translate(95.3 1975.2) scale(1.010 1)" font-size="27.8" fill="#ee3b3b" stroke="#ee3b3b" style="stroke-width:.15px">20</text>
<text class="sf" transform="translate(95.3 1911.3) scale(1.010 1)" font-size="27.8" fill="#ee3b3b" stroke="#ee3b3b" style="stroke-width:.15px">30</text>
<text class="sf" transform="translate(95.3 1847.4) scale(1.010 1)" font-size="27.8" fill="#ee3b3b" stroke="#ee3b3b" style="stroke-width:.15px">40</text>
<text class="sf" transform="translate(95.3 1783.6) scale(1.010 1)" font-size="27.8" fill="#ee3b3b" stroke="#ee3b3b" style="stroke-width:.15px">50</text>
<text class="sf" transform="translate(95.3 1719.7) scale(1.010 1)" font-size="27.8" fill="#ee3b3b" stroke="#ee3b3b" style="stroke-width:.15px">60</text>
<text class="sf" transform="translate(95.3 1655.8) scale(1.010 1)" font-size="27.8" fill="#ee3b3b" stroke="#ee3b3b" style="stroke-width:.15px">70</text>
<text class="sf" transform="translate(95.3 1591.9) scale(1.010 1)" font-size="27.8" fill="#ee3b3b" stroke="#ee3b3b" style="stroke-width:.15px">80</text>
<text class="sf" transform="translate(95.3 1528) scale(1.010 1)" font-size="27.8" fill="#ee3b3b" stroke="#ee3b3b" style="stroke-width:.15px">90</text>
<path d="M145.6 2094.3H132.2M145.6 2062.4H138.8M145.6 2030.4H132.2M145.6 1998.5H138.8M145.6 1966.5H132.2M145.6 1934.6H138.8M145.6 1902.6H132.2M145.6 1870.7H138.8M145.6 1838.7H132.2M145.6 1806.8H138.8M145.6 1774.9H132.2M145.6 1742.9H138.8M145.6 1711H132.2M145.6 1679H138.8M145.6 1647.1H132.2M145.6 1615.1H138.8M145.6 1583.2H132.2M145.6 1551.2H138.8M145.6 1519.3H132.2" stroke="#ee3b3b" stroke-width="2.2" fill="none"/>
<line x1="236.9" y1="1518.2" x2="236.9" y2="2095.4" stroke="#4d4d4d" stroke-width="2.2"/>
<text class="sf" transform="translate(200.4 2103) scale(1.010 1)" font-size="27.8" fill="#4d4d4d" stroke="#4d4d4d" style="stroke-width:.15px">0</text>
<text class="sf" transform="translate(186.3 1959.3) scale(1.010 1)" font-size="27.8" fill="#4d4d4d" stroke="#4d4d4d" style="stroke-width:.15px">20</text>
<text class="sf" transform="translate(186.3 1815.5) scale(1.010 1)" font-size="27.8" fill="#4d4d4d" stroke="#4d4d4d" style="stroke-width:.15px">40</text>
<text class="sf" transform="translate(186.3 1671.8) scale(1.010 1)" font-size="27.8" fill="#4d4d4d" stroke="#4d4d4d" style="stroke-width:.15px">60</text>
<text class="sf" transform="translate(186.3 1528) scale(1.010 1)" font-size="27.8" fill="#4d4d4d" stroke="#4d4d4d" style="stroke-width:.15px">80</text>
<path d="M236.9 2094.3H223.5M236.9 2022.4H230.1M236.9 1950.6H223.5M236.9 1878.7H230.1M236.9 1806.8H223.5M236.9 1734.9H230.1M236.9 1663H223.5M236.9 1591.2H230.1M236.9 1519.3H223.5" stroke="#4d4d4d" stroke-width="2.2" fill="none"/>
<line x1="235.8" y1="2094.3" x2="996.6" y2="2094.3" stroke="#000" stroke-width="2.2"/>
<text class="sf" transform="translate(229.7 2136.6) scale(1.030 1)" font-size="27.8" fill="#000" stroke="#000">0</text>
<text class="sf" transform="translate(332.1 2136.6) scale(1.030 1)" font-size="27.8" fill="#000" stroke="#000">200</text>
<text class="sf" transform="translate(448.8 2136.6) scale(1.030 1)" font-size="27.8" fill="#000" stroke="#000">400</text>
<text class="sf" transform="translate(565.5 2136.6) scale(1.030 1)" font-size="27.8" fill="#000" stroke="#000">600</text>
<text class="sf" transform="translate(682.3 2136.6) scale(1.030 1)" font-size="27.8" fill="#000" stroke="#000">800</text>
<text class="sf" transform="translate(791.8 2136.6) scale(1.030 1)" font-size="27.8" fill="#000" stroke="#000">1000</text>
<text class="sf" transform="translate(908.5 2136.6) scale(1.030 1)" font-size="27.8" fill="#000" stroke="#000">1200</text>
<path d="M236.9 2094.3V2106.8M295.3 2094.3V2100.6M353.6 2094.3V2106.8M412 2094.3V2100.6M470.3 2094.3V2106.8M528.7 2094.3V2100.6M587 2094.3V2106.8M645.4 2094.3V2100.6M703.7 2094.3V2106.8M762.1 2094.3V2100.6M820.4 2094.3V2106.8M878.8 2094.3V2100.6M937.1 2094.3V2106.8M995.5 2094.3V2100.6" stroke="#000" stroke-width="2.2" fill="none"/>
<line x1="995.5" y1="1518.2" x2="995.5" y2="2095.4" stroke="#1f6fe8" stroke-width="2.2"/>
<text class="sf" transform="translate(1017.2 2103) scale(1.010 1)" font-size="27.8" fill="#1f6fe8" stroke="#1f6fe8" style="stroke-width:.15px">0.0</text>
<text class="sf" transform="translate(1017.2 2020.9) scale(1.010 1)" font-size="27.8" fill="#1f6fe8" stroke="#1f6fe8" style="stroke-width:.15px">0.4</text>
<text class="sf" transform="translate(1017.2 1938.7) scale(1.010 1)" font-size="27.8" fill="#1f6fe8" stroke="#1f6fe8" style="stroke-width:.15px">0.8</text>
<text class="sf" transform="translate(1017.2 1856.6) scale(1.010 1)" font-size="27.8" fill="#1f6fe8" stroke="#1f6fe8" style="stroke-width:.15px">1.2</text>
<text class="sf" transform="translate(1017.2 1774.4) scale(1.010 1)" font-size="27.8" fill="#1f6fe8" stroke="#1f6fe8" style="stroke-width:.15px">1.6</text>
<text class="sf" transform="translate(1017.2 1692.3) scale(1.010 1)" font-size="27.8" fill="#1f6fe8" stroke="#1f6fe8" style="stroke-width:.15px">2.0</text>
<text class="sf" transform="translate(1017.2 1610.1) scale(1.010 1)" font-size="27.8" fill="#1f6fe8" stroke="#1f6fe8" style="stroke-width:.15px">2.4</text>
<text class="sf" transform="translate(1017.2 1528) scale(1.010 1)" font-size="27.8" fill="#1f6fe8" stroke="#1f6fe8" style="stroke-width:.15px">2.8</text>
<path d="M995.5 2094.3H1008.9M995.5 2053.2H1002.2M995.5 2012.2H1008.9M995.5 1971.1H1002.2M995.5 1930H1008.9M995.5 1888.9H1002.2M995.5 1847.9H1008.9M995.5 1806.8H1002.2M995.5 1765.7H1008.9M995.5 1724.7H1002.2M995.5 1683.6H1008.9M995.5 1642.5H1002.2M995.5 1601.4H1008.9M995.5 1560.4H1002.2M995.5 1519.3H1008.9" stroke="#1f6fe8" stroke-width="2.2" fill="none"/>
<line x1="1094.6" y1="1518.2" x2="1094.6" y2="2095.4" stroke="#2ea55a" stroke-width="2.2"/>
<text class="sf" transform="translate(1115.9 2103) scale(1.010 1)" font-size="27.8" fill="#2ea55a" stroke="#2ea55a" style="stroke-width:.15px">0</text>
<text class="sf" transform="translate(1115.9 2045.5) scale(1.010 1)" font-size="27.8" fill="#2ea55a" stroke="#2ea55a" style="stroke-width:.15px">2</text>
<text class="sf" transform="translate(1115.9 1988) scale(1.010 1)" font-size="27.8" fill="#2ea55a" stroke="#2ea55a" style="stroke-width:.15px">4</text>
<text class="sf" transform="translate(1115.9 1930.5) scale(1.010 1)" font-size="27.8" fill="#2ea55a" stroke="#2ea55a" style="stroke-width:.15px">6</text>
<text class="sf" transform="translate(1115.9 1873) scale(1.010 1)" font-size="27.8" fill="#2ea55a" stroke="#2ea55a" style="stroke-width:.15px">8</text>
<text class="sf" transform="translate(1115.9 1815.5) scale(1.010 1)" font-size="27.8" fill="#2ea55a" stroke="#2ea55a" style="stroke-width:.15px">10</text>
<text class="sf" transform="translate(1115.9 1758) scale(1.010 1)" font-size="27.8" fill="#2ea55a" stroke="#2ea55a" style="stroke-width:.15px">12</text>
<text class="sf" transform="translate(1115.9 1700.5) scale(1.010 1)" font-size="27.8" fill="#2ea55a" stroke="#2ea55a" style="stroke-width:.15px">14</text>
<text class="sf" transform="translate(1115.9 1643) scale(1.010 1)" font-size="27.8" fill="#2ea55a" stroke="#2ea55a" style="stroke-width:.15px">16</text>
<text class="sf" transform="translate(1115.9 1585.5) scale(1.010 1)" font-size="27.8" fill="#2ea55a" stroke="#2ea55a" style="stroke-width:.15px">18</text>
<text class="sf" transform="translate(1115.9 1528) scale(1.010 1)" font-size="27.8" fill="#2ea55a" stroke="#2ea55a" style="stroke-width:.15px">20</text>
<path d="M1094.6 2094.3H1107.8M1094.6 2065.6H1100.8M1094.6 2036.8H1107.8M1094.6 2008.1H1100.8M1094.6 1979.3H1107.8M1094.6 1950.6H1100.8M1094.6 1921.8H1107.8M1094.6 1893.1H1100.8M1094.6 1864.3H1107.8M1094.6 1835.6H1100.8M1094.6 1806.8H1107.8M1094.6 1778H1100.8M1094.6 1749.3H1107.8M1094.6 1720.5H1100.8M1094.6 1691.8H1107.8M1094.6 1663H1100.8M1094.6 1634.3H1107.8M1094.6 1605.5H1100.8M1094.6 1576.8H1107.8M1094.6 1548H1100.8M1094.6 1519.3H1107.8" stroke="#2ea55a" stroke-width="2.2" fill="none"/>
<line x1="1185.6" y1="1518.3" x2="1185.6" y2="2095.2" stroke="#007c7c" stroke-width="2.4"/>
<text class="sf" transform="translate(1208.4 1528) scale(1.010 1)" font-size="27.8" fill="#007c7c" stroke="#007c7c" style="stroke-width:.15px">1000</text>
<text class="sf" transform="translate(1208.4 1580.3) scale(1.010 1)" font-size="27.8" fill="#007c7c" stroke="#007c7c" style="stroke-width:.15px">100</text>
<text class="sf" transform="translate(1208.4 1632.5) scale(1.010 1)" font-size="27.8" fill="#007c7c" stroke="#007c7c" style="stroke-width:.15px">10</text>
<text class="sf" transform="translate(1208.4 1684.8) scale(1.010 1)" font-size="27.8" fill="#007c7c" stroke="#007c7c" style="stroke-width:.15px">1</text>
<text class="sf" transform="translate(1208.4 1737.1) scale(1.010 1)" font-size="27.8" fill="#007c7c" stroke="#007c7c" style="stroke-width:.15px">0.1</text>
<text class="sf" transform="translate(1208.4 1789.4) scale(1.010 1)" font-size="27.8" fill="#007c7c" stroke="#007c7c" style="stroke-width:.15px">0.01</text>
<text class="sf" transform="translate(1208.4 1841.6) scale(1.010 1)" font-size="27.8" fill="#007c7c" stroke="#007c7c" style="stroke-width:.15px">0.001</text>
<text class="sf" transform="translate(1208.4 1893.9) scale(1.010 1)" font-size="27.8" fill="#007c7c" stroke="#007c7c" style="stroke-width:.15px">1E-4</text>
<text class="sf" transform="translate(1208.4 1946.2) scale(1.010 1)" font-size="27.8" fill="#007c7c" stroke="#007c7c" style="stroke-width:.15px">1E-5</text>
<text class="sf" transform="translate(1208.4 1998.5) scale(1.010 1)" font-size="27.8" fill="#007c7c" stroke="#007c7c" style="stroke-width:.15px">1E-6</text>
<text class="sf" transform="translate(1208.4 2050.7) scale(1.010 1)" font-size="27.8" fill="#007c7c" stroke="#007c7c" style="stroke-width:.15px">1E-7</text>
<text class="sf" transform="translate(1208.4 2103) scale(1.010 1)" font-size="27.8" fill="#007c7c" stroke="#007c7c" style="stroke-width:.15px">1E-8</text>
<path d="M1185.6 1519.3H1198.9M1185.6 1555.8H1192M1185.6 1546.6H1192M1185.6 1540.1H1192M1185.6 1535H1192M1185.6 1530.9H1192M1185.6 1527.4H1192M1185.6 1524.4H1192M1185.6 1521.7H1192M1185.6 1571.6H1198.9M1185.6 1608.1H1192M1185.6 1598.9H1192M1185.6 1592.4H1192M1185.6 1587.3H1192M1185.6 1583.2H1192M1185.6 1579.7H1192M1185.6 1576.6H1192M1185.6 1574H1192M1185.6 1623.8H1198.9M1185.6 1660.4H1192M1185.6 1651.2H1192M1185.6 1644.6H1192M1185.6 1639.6H1192M1185.6 1635.4H1192M1185.6 1631.9H1192M1185.6 1628.9H1192M1185.6 1626.2H1192M1185.6 1676.1H1198.9M1185.6 1712.7H1192M1185.6 1703.5H1192M1185.6 1696.9H1192M1185.6 1691.9H1192M1185.6 1687.7H1192M1185.6 1684.2H1192M1185.6 1681.2H1192M1185.6 1678.5H1192M1185.6 1728.4H1198.9M1185.6 1764.9H1192M1185.6 1755.7H1192M1185.6 1749.2H1192M1185.6 1744.1H1192M1185.6 1740H1192M1185.6 1736.5H1192M1185.6 1733.5H1192M1185.6 1730.8H1192M1185.6 1780.7H1198.9M1185.6 1817.2H1192M1185.6 1808H1192M1185.6 1801.5H1192M1185.6 1796.4H1192M1185.6 1792.3H1192M1185.6 1788.8H1192M1185.6 1785.7H1192M1185.6 1783.1H1192M1185.6 1832.9H1198.9M1185.6 1869.5H1192M1185.6 1860.3H1192M1185.6 1853.7H1192M1185.6 1848.7H1192M1185.6 1844.5H1192M1185.6 1841H1192M1185.6 1838H1192M1185.6 1835.3H1192M1185.6 1885.2H1198.9M1185.6 1921.7H1192M1185.6 1912.5H1192M1185.6 1906H1192M1185.6 1900.9H1192M1185.6 1896.8H1192M1185.6 1893.3H1192M1185.6 1890.3H1192M1185.6 1887.6H1192M1185.6 1937.5H1198.9M1185.6 1974H1192M1185.6 1964.8H1192M1185.6 1958.3H1192M1185.6 1953.2H1192M1185.6 1949.1H1192M1185.6 1945.6H1192M1185.6 1942.5H1192M1185.6 1939.9H1192M1185.6 1989.8H1198.9M1185.6 2026.3H1192M1185.6 2017.1H1192M1185.6 2010.6H1192M1185.6 2005.5H1192M1185.6 2001.4H1192M1185.6 1997.9H1192M1185.6 1994.8H1192M1185.6 1992.1H1192M1185.6 2042H1198.9M1185.6 2078.6H1192M1185.6 2069.4H1192M1185.6 2062.8H1192M1185.6 2057.8H1192M1185.6 2053.6H1192M1185.6 2050.1H1192M1185.6 2047.1H1192M1185.6 2044.4H1192M1185.6 2094.3H1198.9" stroke="#007c7c" stroke-width="1.9" fill="none"/>
<text class="sf" transform="translate(82.5 1955.1) rotate(-90) scale(0.918 1)" font-size="36" fill="#ee3b3b" stroke="#ee3b3b">Normal stress</text>
<text class="sf" transform="translate(82.5 1767.1) rotate(-90) scale(1.145 1)" font-size="36" fill="#ee3b3b" stroke="#ee3b3b" style="stroke-width:0"><tspan font-style="italic">σ</tspan></text>
<text class="sf" transform="translate(82.5 1742.2) rotate(-90) scale(0.911 1)" font-size="36" fill="#ee3b3b" stroke="#ee3b3b">(Mpa)</text>
<text class="sf" transform="translate(179.5 1938.9) rotate(-90) scale(0.891 1)" font-size="36" fill="#4d4d4d" stroke="#4d4d4d">Shear stress</text>
<text class="sf" transform="translate(179.5 1778.3) rotate(-90) scale(1.246 1)" font-size="36" fill="#4d4d4d" stroke="#4d4d4d" style="stroke-width:0"><tspan font-style="italic">τ</tspan></text>
<text class="sf" transform="translate(179.5 1757.8) rotate(-90) scale(0.913 1)" font-size="36" fill="#4d4d4d" stroke="#4d4d4d">(Mpa)</text>
<text class="sf" transform="translate(1091.8 1929.2) rotate(-90) scale(0.886 1)" font-size="36" fill="#1f6fe8" stroke="#1f6fe8">Friction coefficient</text>
<text class="sf" transform="translate(1171.8 1970.6) rotate(-90) scale(0.891 1)" font-size="36" fill="#2ea55a" stroke="#2ea55a">Shear displacement (mm)</text>
<text class="sf" transform="translate(1300.5 1937.9) rotate(-90) scale(0.888 1)" font-size="36" fill="#007c7c" stroke="#007c7c">Slip velocity (mm/s)</text>
<text class="sf" transform="translate(557.6 2185.8) scale(1.072 1)" font-size="32.7" fill="#000" stroke="#000">Time (s)</text>
<text class="sf" transform="translate(604.1 2268.1)" font-size="39" fill="#000" stroke="#000" style="stroke-width:.1px"><tspan font-style="italic">σ</tspan><tspan font-size="28.1" dy="3.4">ct</tspan></text>
<text class="sf" transform="translate(648.2 2268.1) scale(1.119 1)" font-size="39" fill="#000" stroke="#000" style="stroke-width:.1px">=</text>
<text class="sf" transform="translate(681.6 2268.1) scale(1.015 1)" font-size="39" fill="#000" stroke="#000" style="stroke-width:.1px">40</text>
<text class="sf" transform="translate(729.7 2268.1) scale(1.019 1)" font-size="39" fill="#000" stroke="#000" style="stroke-width:.1px">MPa</text>
</svg>
</body></html>
